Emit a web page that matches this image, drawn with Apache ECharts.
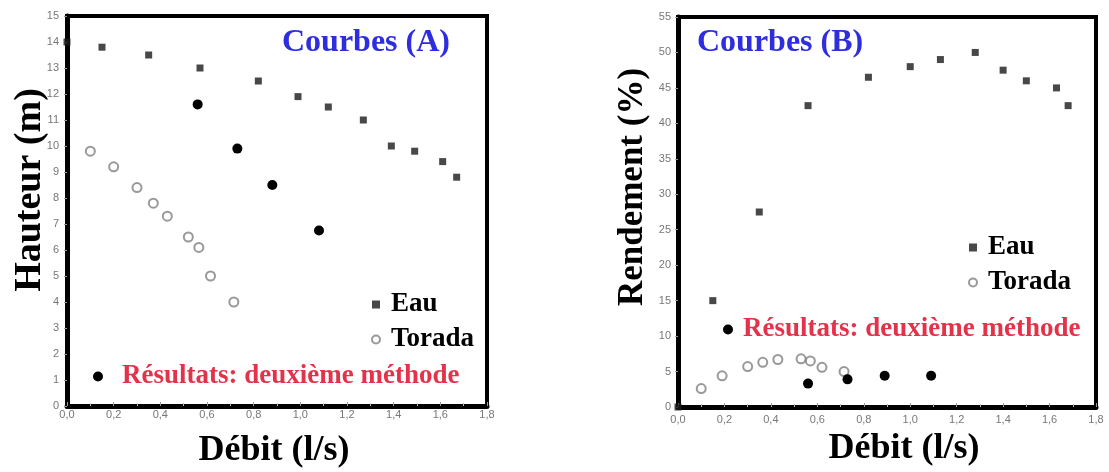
<!DOCTYPE html>
<html>
<head>
<meta charset="utf-8">
<script src="https://cdn.jsdelivr.net/npm/echarts@6/dist/echarts.min.js"></script>
<style>
  html, body { margin: 0; padding: 0; background: #fff; }
  #chart { width: 1109px; height: 472px; }
</style>
</head>
<body>
<div id="chart"></div>
<script>
// Débit (l/s) vs Hauteur (m) — Courbes (A)
const eauA_q = [0, 0.15, 0.35, 0.57, 0.82, 0.99, 1.12, 1.27, 1.39, 1.49, 1.61, 1.67];
const eauA_h = [14, 13.8, 13.5, 13.0, 12.5, 11.9, 11.5, 11.0, 10.0, 9.8, 9.4, 8.8];
const toradaA_q = [0.10, 0.20, 0.30, 0.37, 0.43, 0.52, 0.565, 0.615, 0.715];
const toradaA_h = [9.8, 9.2, 8.4, 7.8, 7.3, 6.5, 6.1, 5.0, 4.0];
const methA_q = [0.56, 0.73, 0.88, 1.08];
const methA_h = [11.6, 9.9, 8.5, 6.75];

// Débit (l/s) vs Rendement (%) — Courbes (B)
const eauB_q = [0, 0.15, 0.35, 0.56, 0.82, 1.0, 1.13, 1.28, 1.40, 1.50, 1.63, 1.68];
const eauB_r = [0, 15, 27.5, 42.5, 46.5, 48, 49, 50, 47.5, 46, 45, 42.5];
const toradaB_q = [0.10, 0.19, 0.30, 0.365, 0.43, 0.53, 0.57, 0.62, 0.715];
const toradaB_r = [2.6, 4.4, 5.7, 6.3, 6.7, 6.8, 6.5, 5.6, 5.0];
const methB_q = [0.56, 0.73, 0.89, 1.09];
const methB_r = [3.3, 3.9, 4.4, 4.4];

const NAME_EAU = 'Eau';
const NAME_TORADA = 'Torada';
const NAME_METH = 'Résultats: deuxième méthode';

const SERIF = '"Liberation Serif", "Times New Roman", serif';
const TICK_FONT = '"Liberation Sans Narrow", "Liberation Sans", Arial, sans-serif';

const pairs = (xs, ys) => xs.map((x, i) => [x, ys[i]]);
const comma = v => v.toFixed(1).replace('.', ',');

function xAxisDef(gridIndex, labelMargin) {
  return {
    type: 'value', gridIndex, min: 0, max: 1.8, interval: 0.2,
    axisLine: { show: true, onZero: false, lineStyle: { color: '#000', width: 5 } },
    axisTick: { show: true, inside: true, length: 4, lineStyle: { color: '#999', width: 1 } },
    minorTick: { show: true, splitNumber: 2, length: 3, lineStyle: { color: '#bbb' } },
    splitLine: { show: false },
    axisLabel: { color: '#777', fontSize: 11, fontFamily: TICK_FONT, margin: labelMargin, formatter: comma }
  };
}
function yAxisDef(gridIndex, max, interval, labelMargin) {
  return {
    type: 'value', gridIndex, min: 0, max, interval,
    axisLine: { show: true, onZero: false, lineStyle: { color: '#000', width: 5 } },
    axisTick: { show: true, length: 3, lineStyle: { color: '#999', width: 1 } },
    splitLine: { show: false },
    axisLabel: { color: '#777', fontSize: 11, fontFamily: TICK_FONT, margin: labelMargin }
  };
}

const eauStyle = { symbol: 'rect', symbolSize: 7, itemStyle: { color: '#1a1a1a' } };
const toradaStyle = { symbol: 'emptyCircle', symbolSize: 9, itemStyle: { color: '#808080', borderWidth: 1.5 } };
const methStyle = { symbol: 'circle', symbolSize: 10, itemStyle: { color: '#000', opacity: 1 } };

function scatter(name, data, gridIdx, style) {
  return Object.assign({
    type: 'scatter', name, data, xAxisIndex: gridIdx, yAxisIndex: gridIdx,
    clip: false, z: 1
  }, style);
}

const legendText = { color: '#000', fontSize: 27, fontWeight: 'bold', fontFamily: SERIF, lineHeight: 27, padding: [0, 0, 0, 6] };

function seriesLegend(left, top) {
  return {
    orient: 'vertical', left, top, itemGap: 8, itemWidth: 8, itemHeight: 8,
    selectedMode: false, padding: 0,
    data: [{ name: NAME_EAU, icon: 'rect', itemStyle: { color: '#1a1a1a' } },
           { name: NAME_TORADA, icon: 'emptyCircle' }],
    textStyle: legendText
  };
}
function methLegend(left, top, textGap) {
  return {
    left, top, itemWidth: 10, itemHeight: 10, selectedMode: false, padding: 0,
    data: [{ name: NAME_METH, icon: 'circle', itemStyle: { color: '#000' } }],
    textStyle: { color: '#e3324a', fontSize: 27, fontWeight: 'bold', fontFamily: SERIF, lineHeight: 27, padding: [0, 0, 0, textGap] }
  };
}

const titleFont = (size, color) => ({ fontSize: size, fontWeight: 'bold', fontFamily: SERIF, fill: color });

const option = {
  backgroundColor: '#fff',
  animation: false,
  grid: [
    { left: 67, top: 16, width: 420, height: 390, show: true, borderColor: '#000', borderWidth: 4 },
    { left: 678, top: 17, width: 418, height: 390, show: true, borderColor: '#000', borderWidth: 4 }
  ],
  xAxis: [xAxisDef(0, 3), xAxisDef(1, 7)],
  yAxis: [yAxisDef(0, 15, 1, 8), yAxisDef(1, 55, 5, 7)],
  legend: [
    seriesLegend(371, 291),
    methLegend(93, 363, 14),
    seriesLegend(968, 234),
    methLegend(723, 316, 5)
  ],
  series: [
    scatter(NAME_EAU, pairs(eauA_q, eauA_h), 0, eauStyle),
    scatter(NAME_TORADA, pairs(toradaA_q, toradaA_h), 0, toradaStyle),
    scatter(NAME_METH, pairs(methA_q, methA_h), 0, methStyle),
    scatter(NAME_EAU, pairs(eauB_q, eauB_r), 1, eauStyle),
    scatter(NAME_TORADA, pairs(toradaB_q, toradaB_r), 1, toradaStyle),
    scatter(NAME_METH, pairs(methB_q, methB_r), 1, methStyle)
  ],
  graphic: [
    { type: 'text', left: 282, top: 27, style: Object.assign({ text: 'Courbes (A)' }, titleFont(32, '#2e2ee0')) },
    { type: 'text', left: 697, top: 27, style: Object.assign({ text: 'Courbes (B)' }, titleFont(32, '#2e2ee0')) },
    { type: 'text', x: 30, y: 190, rotation: Math.PI / 2,
      style: Object.assign({ text: 'Hauteur (m)', align: 'center', verticalAlign: 'middle' }, titleFont(38, '#000')) },
    { type: 'text', x: 633, y: 187, rotation: Math.PI / 2,
      style: Object.assign({ text: 'Rendement (%)', align: 'center', verticalAlign: 'middle' }, titleFont(35, '#000')) },
    { type: 'text', x: 274, y: 451,
      style: Object.assign({ text: 'Débit (l/s)', align: 'center', verticalAlign: 'middle' }, titleFont(36, '#000')) },
    { type: 'text', x: 904, y: 449,
      style: Object.assign({ text: 'Débit (l/s)', align: 'center', verticalAlign: 'middle' }, titleFont(36, '#000')) }
  ]
};

const chart = echarts.init(document.getElementById('chart'), null, { renderer: 'canvas' });
chart.setOption(option);
</script>
</body>
</html>
